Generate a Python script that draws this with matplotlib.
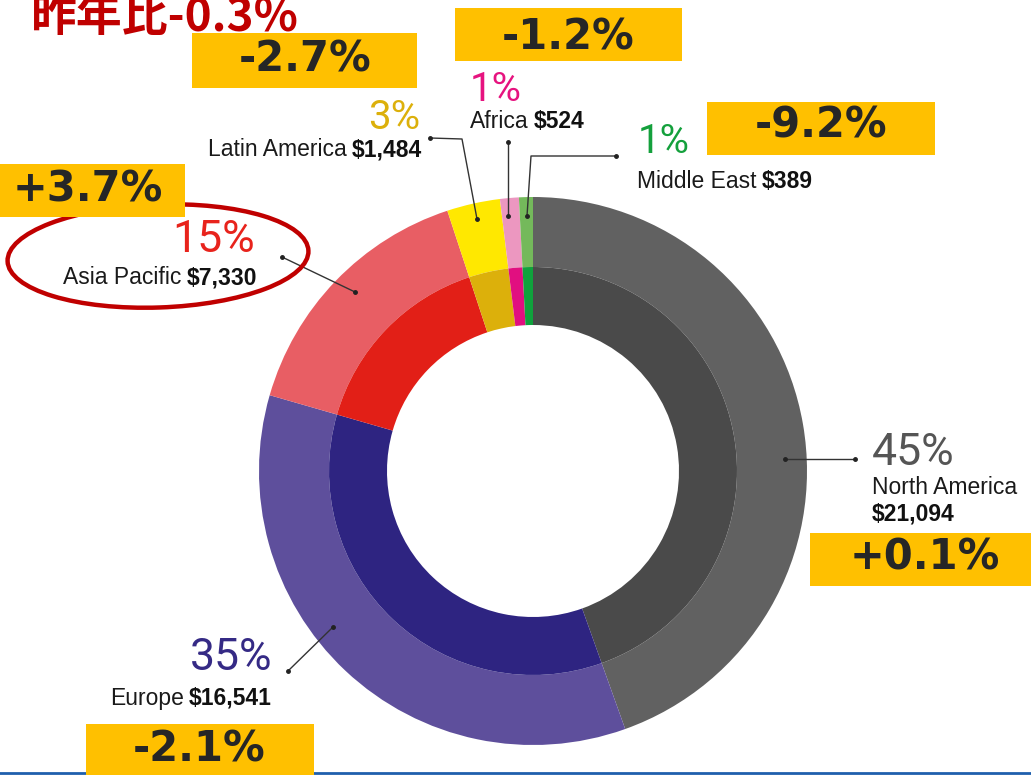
import matplotlib
matplotlib.use("Agg")
import matplotlib.pyplot as plt
from matplotlib.patches import Rectangle, Ellipse

# data
regions = ["North America", "Europe", "Asia Pacific", "Latin America", "Africa", "Middle East"]
sales = [21094, 16541, 7330, 1484, 524, 389]
share_labels = ["45%", "35%", "15%", "3%", "1%", "1%"]
value_labels = ["$21,094", "$16,541", "$7,330", "$1,484", "$524", "$389"]
yoy_labels = ["+0.1%", "-2.1%", "+3.7%", "-2.7%", "-1.2%", "-9.2%"]
total_yoy = "昨年比-0.3%"

outer_colors = ["#616161", "#5e4f9c", "#e85e64", "#ffe800", "#ec97c0", "#74b95b"]
inner_colors = ["#4a4a4a", "#2e2481", "#e21f17", "#dcb00b", "#e10f80", "#0fa23c"]
share_colors = ["#555555", "#352a85", "#e8231c", "#dcb00b", "#e6137f", "#14a03c"]

W, H = 1031, 775
fig = plt.figure(figsize=(W / 100, H / 100), dpi=100)
ax = fig.add_axes([0, 0, 1, 1])


def Y(y):
    # pixel row (from top) -> data y
    return H - y


cx, cy = 533, 471
ax.pie(sales, radius=274, center=(cx, Y(cy)), startangle=90, counterclock=False,
       colors=outer_colors, wedgeprops=dict(width=70, linewidth=0))
ax.pie(sales, radius=204, center=(cx, Y(cy)), startangle=90, counterclock=False,
       colors=inner_colors, wedgeprops=dict(width=58, linewidth=0))
ax.set_xlim(0, W)
ax.set_ylim(0, H)
ax.set_aspect("equal")
ax.axis("off")

renderer = fig.canvas.get_renderer()
lab_font = "Liberation Sans"
pct_font = ["Roboto", "DejaVu Sans"]
box_font = "DejaVu Sans"


def text_width(t):
    return t.get_window_extent(renderer=renderer).width


def label(x, y, normal, bold, ha="left", size=16.5):
    t1 = ax.text(x, Y(y), normal, family=lab_font, fontsize=size, color="#1a1a1a",
                 ha="left", va="center")
    w1 = text_width(t1) if normal else 0
    gap = 5 if normal else 0
    t2 = ax.text(x + w1 + gap, Y(y), bold, family=lab_font, fontsize=size,
                 weight="bold", color="#111111", ha="left", va="center")
    if ha == "right":
        total = w1 + gap + text_width(t2)
        t1.set_x(x - total)
        t2.set_x(x - total + w1 + gap)


def share(x, y, s, color, ha="left", size=31):
    ax.text(x, Y(y), s, family=pct_font, fontsize=size, color=color,
            ha=ha, va="baseline")


def box(x0, y0, x1, y1, s, tx=None, base=None):
    ax.add_patch(Rectangle((x0, Y(y1)), x1 - x0, y1 - y0, facecolor="#ffc000",
                           edgecolor="none", zorder=4))
    if tx is None:
        tx = (x0 + x1) / 2
    if base is None:
        base = (y0 + y1) / 2 + 11
    ax.text(tx, Y(base), s, family=box_font, fontsize=30, weight="bold",
            color="#262626", ha="center", va="baseline", zorder=5)


def leader(pts):
    xs = [p[0] for p in pts]
    ys = [Y(p[1]) for p in pts]
    ax.plot(xs, ys, color="#333333", lw=1.0, zorder=3)
    ax.plot([xs[0], xs[-1]], [ys[0], ys[-1]], "o", color="#222222", ms=2.5, zorder=3)


# leader lines
leader([(785, 459), (855, 459)])                    # North America
leader([(288, 671), (333, 627)])                    # Europe
leader([(282, 257), (355, 292)])                    # Asia Pacific
leader([(430, 138), (462, 139), (477, 219)])        # Latin America
leader([(508, 142), (508, 216)])                    # Africa
leader([(616, 156), (531, 156), (527, 216)])        # Middle East

# share labels and region labels
share(872, 465, share_labels[0], share_colors[0], size=32)
label(872, 487, regions[0], "")
label(872, 514, "", value_labels[0])

share(272, 670, share_labels[1], share_colors[1], ha="right", size=32)
label(272, 698, regions[1], value_labels[1], ha="right")

share(255, 252, share_labels[2], share_colors[2], ha="right", size=32)
label(257, 278, regions[2], value_labels[2], ha="right")

share(420, 129, share_labels[3], share_colors[3], ha="right", size=29)
label(422, 150, regions[3], value_labels[3], ha="right")

share(470, 101, share_labels[4], share_colors[4], size=29)
label(470, 121, regions[4], value_labels[4])

share(638, 153, share_labels[5], share_colors[5], size=29)
label(637, 181, regions[5], value_labels[5])

# highlight ellipse around Asia Pacific
ax.add_patch(Ellipse((158, Y(256)), 301, 103, angle=2, fill=False,
                     edgecolor="#c00000", lw=3.2, zorder=3))

# year-over-year boxes
box(810, 533, W + 5, 586, yoy_labels[0], tx=925, base=570)
box(86, 724, 314, H + 5, yoy_labels[1], tx=199, base=762)
box(-5, 164, 185, 217, yoy_labels[2], tx=88, base=202)
box(192, 33, 417, 88, yoy_labels[3], tx=305, base=72)
box(455, 8, 682, 61, yoy_labels[4], base=49)
box(707, 102, 935, 155, yoy_labels[5], tx=821, base=138)

# title (partly cut off at the top, as in the source slide)
ax.text(31, Y(31), total_yoy, family=["Noto Sans CJK JP", "DejaVu Sans"],
        fontsize=33, weight="bold", color="#c00000", ha="left", va="baseline")

# blue rule at the bottom
ax.plot([0, W], [Y(773), Y(773)], color="#1f5fad", lw=2, zorder=1)

fig.savefig("out.png", dpi=100)
